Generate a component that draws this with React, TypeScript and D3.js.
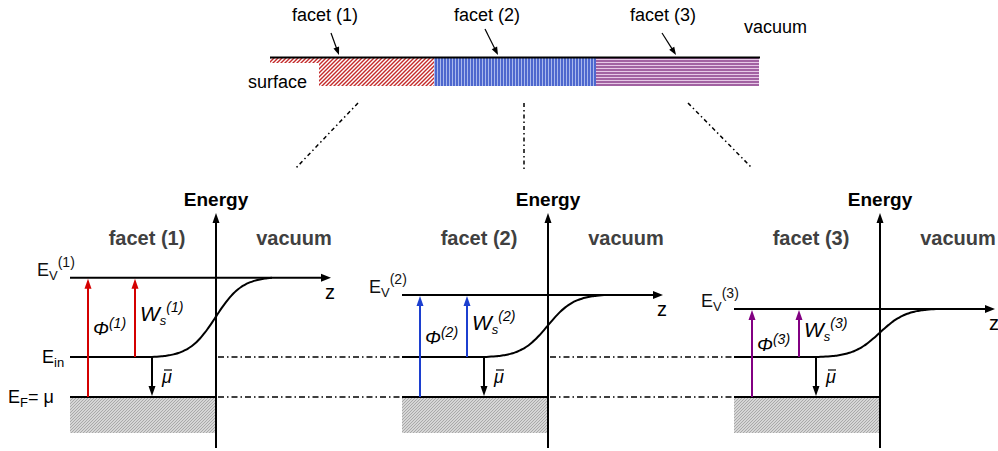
import React from "react";
import * as d3 from "d3";

// ---- data ----
const facetIds = ["1", "2", "3"];
const facetNames = ["facet (1)", "facet (2)", "facet (3)"];
const facetColors = ["#d40000", "#1c3fcf", "#820082"];
// energies relative to E_F (units: E_in - E_F = 1)
const vacuumLevels = [2.98, 2.55, 2.2];
const innerLevel = 1;
const fermiLevel = 0;
const topLabels = ["facet (1)", "facet (2)", "facet (3)"];

const W = 998;
const H = 451;
const FONT = "'Liberation Sans', Arial, sans-serif";

function Arrow({ x1, y1, x2, y2, color = "#000", width = 2, head = 9, half = 3.5 }) {
  const dx = x2 - x1, dy = y2 - y1;
  const len = Math.hypot(dx, dy);
  const ux = dx / len, uy = dy / len;
  const bx = x2 - ux * head, by = y2 - uy * head;
  const px = -uy * half, py = ux * half;
  return (
    <g>
      <line x1={x1} y1={y1} x2={bx + ux * 1} y2={by + uy * 1} stroke={color} strokeWidth={width} />
      <polygon points={`${x2},${y2} ${bx + px},${by + py} ${bx - px},${by - py}`} fill={color} />
    </g>
  );
}

export default function App() {
  const y = d3.scaleLinear().domain([fermiLevel, innerLevel]).range([397, 357]);
  const xAxis = d3.scalePoint().domain(facetIds).range([216, 880]);
  const yIn = y(innerLevel);
  const yF = y(fermiLevel);

  const sig = (t: number) => {
    const k = 9, c = 0.53;
    const f = (v: number) => 1 / (1 + Math.exp(-k * (v - c)));
    return (f(t) - f(0)) / (f(1) - f(0));
  };
  const line = d3.line<[number, number]>().curve(d3.curveMonotoneX);

  return (
    <svg width={W} height={H} style={{ display: "block", position: "absolute", left: 0, top: 0 }} fontFamily={FONT}>
      <defs>
        <pattern id="redHatch" width="4" height="4" patternUnits="userSpaceOnUse">
          <rect width="4" height="4" fill="#fff" />
          <path d="M-1,1 l2,-2 M0,4 l4,-4 M3,5 l2,-2" stroke="#c42a2a" strokeWidth="1.4" />
        </pattern>
        <pattern id="blueHatch" width="3" height="3" patternUnits="userSpaceOnUse">
          <rect width="3" height="3" fill="#a9b8ec" />
          <line x1="1" y1="0" x2="1" y2="3" stroke="#2645c2" strokeWidth="1.4" />
        </pattern>
        <pattern id="purpleHatch" width="3" height="3" patternUnits="userSpaceOnUse">
          <rect width="3" height="3" fill="#e6c8e6" />
          <line x1="0" y1="1" x2="3" y2="1" stroke="#7d2a7d" strokeWidth="1.3" />
        </pattern>
        <pattern id="grayHatch" width="3" height="3" patternUnits="userSpaceOnUse">
          <rect width="3" height="3" fill="#d6d6d6" />
          <path d="M-1,1 l2,-2 M0,3 l3,-3 M2,4 l2,-2" stroke="#8c8c8c" strokeWidth="0.6" />
        </pattern>
      </defs>
      <rect width={W} height={H} fill="#fff" />

      {/* ---- top surface sketch ---- */}
      <rect x={270} y={58} width={49} height={5} fill="url(#redHatch)" />
      <rect x={319} y={58} width={115} height={28} fill="url(#redHatch)" />
      <rect x={434} y={58} width={162} height={28} fill="url(#blueHatch)" />
      <rect x={596} y={58} width={163} height={28} fill="url(#purpleHatch)" />
      <line x1={270} y1={57.5} x2={760} y2={57.5} stroke="#000" strokeWidth={2} />
      <text x={325} y={21} fontSize={18} textAnchor="middle">{topLabels[0]}</text>
      <text x={487} y={21} fontSize={18} textAnchor="middle">{topLabels[1]}</text>
      <text x={663} y={21} fontSize={18} textAnchor="middle">{topLabels[2]}</text>
      <text x={744} y={33} fontSize={18}>vacuum</text>
      <text x={248} y={88} fontSize={18}>surface</text>
      <Arrow x1={331} y1={33} x2={339} y2={55} width={1.2} head={8} half={3} />
      <Arrow x1={485} y1={29} x2={498} y2={55} width={1.2} head={8} half={3} />
      <Arrow x1={662} y1={33} x2={676} y2={55} width={1.2} head={8} half={3} />

      {/* connectors */}
      <g stroke="#000" strokeWidth={1.5} strokeDasharray="4,3,1.5,3" fill="none">
        <line x1={358} y1={103} x2={295} y2={169} />
        <line x1={524} y1={103} x2={524} y2={170} />
        <line x1={688} y1={103} x2={752} y2={168} />
      </g>

      {/* horizontal dash-dot level guides */}
      <g stroke="#000" strokeWidth={1.5} strokeDasharray="6,3,1.5,3" fill="none">
        {[0, 1].map((i) => {
          const a = xAxis(facetIds[i])! + 2;
          const b = xAxis(facetIds[i + 1])! - 146;
          return (
            <g key={i}>
              <line x1={a} y1={yIn} x2={b} y2={yIn} />
              <line x1={a} y1={yF} x2={b} y2={yF} />
            </g>
          );
        })}
      </g>

      {/* ---- energy panels ---- */}
      {facetIds.map((id, i) => {
        const ax = xAxis(id)!;
        const left = ax - 146;
        const phiX = ax - 128;
        const wsX = ax - 81;
        const muX = ax - 64;
        const curveEnd = ax + 56;
        const yV = y(vacuumLevels[i]);
        const mid = (yV + yIn) / 2;
        const pts: [number, number][] = d3.range(0, 1.0001, 0.02).map((t) => [
          muX + t * (curveEnd - muX),
          yIn + (yV - yIn) * sig(t),
        ]);
        const col = facetColors[i];
        return (
          <g key={id}>
            <rect x={left} y={yF} width={ax - left} height={36} fill="url(#grayHatch)" />
            <line x1={left} y1={yF} x2={ax} y2={yF} stroke="#000" strokeWidth={2} />
            <line x1={left} y1={yIn} x2={muX} y2={yIn} stroke="#000" strokeWidth={2} />
            <path d={line(pts)!} fill="none" stroke="#000" strokeWidth={2} />
            <Arrow x1={left} y1={yV} x2={ax + 115} y2={yV} head={10} half={4} />
            <Arrow x1={ax} y1={448} x2={ax} y2={213} head={10} half={3.5} />
            <Arrow x1={phiX} y1={yF} x2={phiX} y2={yV + 1} color={col} width={2} head={10} half={3.5} />
            <Arrow x1={wsX} y1={yIn} x2={wsX} y2={yV + 1} color={col} width={2} head={10} half={3.5} />
            <Arrow x1={muX} y1={yIn} x2={muX} y2={yF - 1} head={10} half={3.5} />

            <text x={ax} y={206} fontSize={19} fontWeight="bold" textAnchor="middle">Energy</text>
            <text x={ax - 69} y={245} fontSize={20} fontWeight="bold" fill="#404040" textAnchor="middle">{facetNames[i]}</text>
            <text x={ax + 78} y={245} fontSize={20} fontWeight="bold" fill="#404040" textAnchor="middle">vacuum</text>
            <text x={ax + 109} y={yV + 21} fontSize={20}>z</text>

            <text x={left - 33} y={yV - 2} fontSize={18} fill="#111">
              E<tspan fontSize={13} dy={4}>V</tspan>
              <tspan fontSize={14} dy={-13}>({id})</tspan>
            </text>

            <text x={phiX + 5} y={mid + 18} fontSize={19} fontStyle="italic">
              Φ<tspan fontSize={14} dy={-7}>({id})</tspan>
            </text>
            <text x={wsX + 5} y={mid + 4} fontSize={21} fontStyle="italic">
              W<tspan fontSize={13} dy={4}>s</tspan>
              <tspan fontSize={14} dy={-13}>({id})</tspan>
            </text>

            <text x={muX + 10} y={383} fontSize={18} fontStyle="italic">μ</text>
            <line x1={muX + 12} y1={370} x2={muX + 20} y2={370} stroke="#000" strokeWidth={1.2} />
          </g>
        );
      })}

      {/* left-side level labels */}
      <text x={42} y={363} fontSize={18}>
        E<tspan fontSize={13} dy={4}>in</tspan>
      </text>
      <text x={8} y={403} fontSize={18}>
        E<tspan fontSize={13} dy={4}>F</tspan>
        <tspan dy={-4}>= μ</tspan>
      </text>
    </svg>
  );
}
